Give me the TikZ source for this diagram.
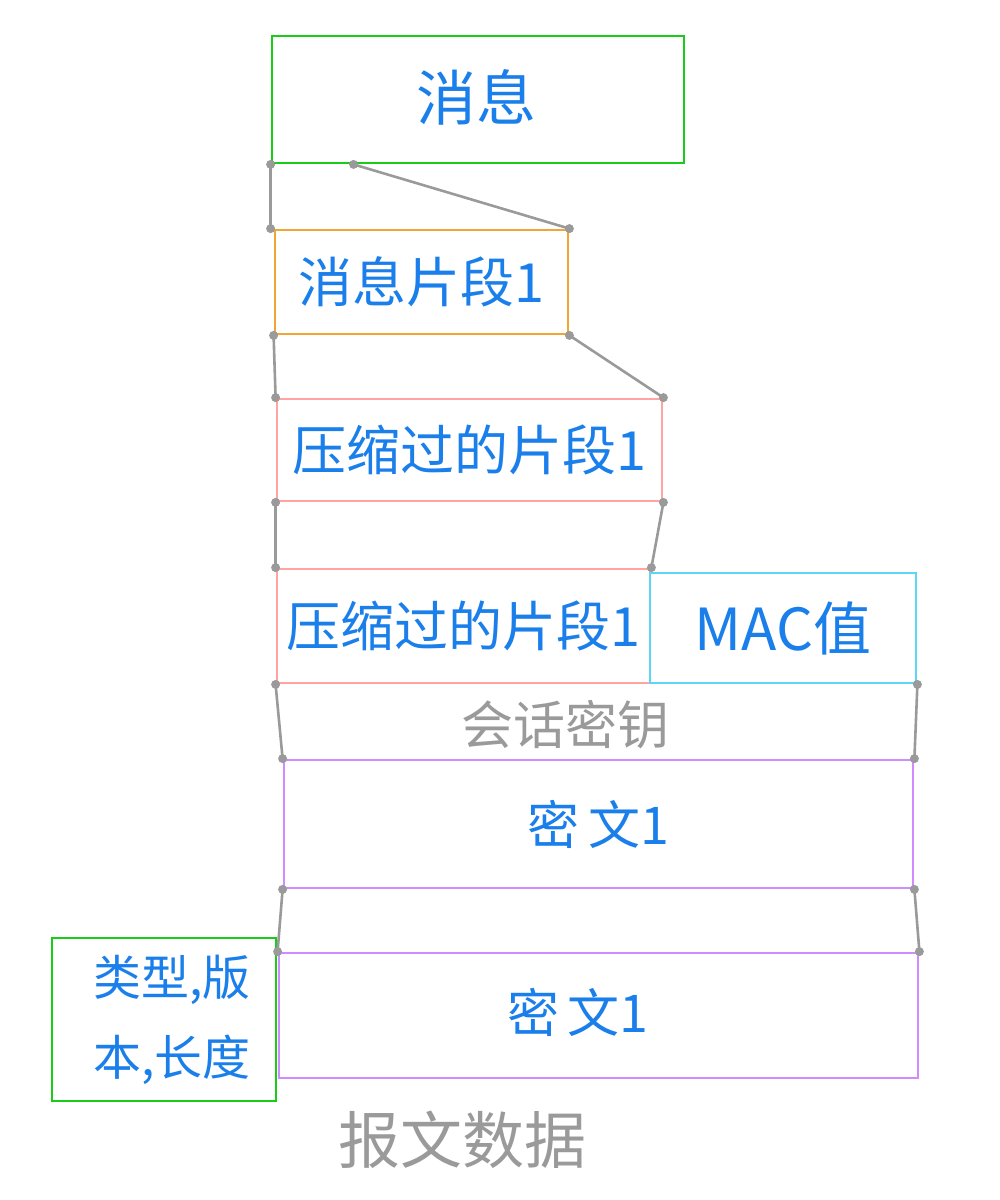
\documentclass[tikz,border=0pt]{standalone}
\usepackage{fontspec}
\usetikzlibrary{calc}
\setmainfont{Noto Sans CJK SC}
\definecolor{txtblue}{HTML}{1A7FEA}
\definecolor{lgray}{HTML}{9A9A9A}
\definecolor{bgreen}{HTML}{1ACC1A}
\definecolor{borange}{HTML}{F2A533}
\definecolor{bpink}{HTML}{FFA3A3}
\definecolor{bcyan}{HTML}{5CD6F5}
\definecolor{bpurple}{HTML}{D08CFF}
\begin{document}
\begin{tikzpicture}[x=1pt,y=-1pt,
  box/.style={draw, line width=2.8pt, rectangle, inner sep=0pt, text=txtblue,
    font=\fontsize{54}{60}\selectfont},
  link/.style={draw=lgray, line width=2.6pt},
  dot/.style={fill=lgray, draw=none},
  graytext/.style={text=lgray, font=\fontsize{52}{60}\selectfont}]
\useasboundingbox (0,0) rectangle (1000,1200);

\node[box, draw=bgreen, minimum width=412pt, minimum height=127pt] (msg) at (478,99.5) {};
\node[text=txtblue, font=\fontsize{60}{66}\selectfont] (msgt) at (476,97) {消息};
\node[box, draw=borange, minimum width=293pt, minimum height=104pt] (frag) at (421.5,282) {消息片段1};
\node[box, draw=bpink, minimum width=385pt, minimum height=102pt] (comp) at (469.5,450) {压缩过的片段1};
\node[box, draw=bpink, minimum width=373pt, minimum height=114pt] (comp2) at (463.5,626) {压缩过的片段1};
\node[box, draw=bcyan, minimum width=266pt, minimum height=110pt, font=\fontsize{58}{64}\selectfont] (mac) at (783,628) {MAC值};
\node[box, draw=bpurple, minimum width=629pt, minimum height=128pt, font=\fontsize{52}{60}\selectfont] (ct1) at (598.5,824) {密\,文1};
\node[box, draw=bpurple, minimum width=639pt, minimum height=125pt] (ct2) at (598.5,1015.5) {};
\node[text=txtblue, font=\fontsize{52}{60}\selectfont] (ct2t) at (578,1012) {密\,文1};
\node[box, draw=bgreen, minimum width=224pt, minimum height=163pt, align=center,
  font=\fontsize{48}{80}\selectfont] (hdr) at (164,1019.5) {\hspace*{16pt}类型,版\\\hspace*{16pt}本,长度};

\node[graytext] (key) at (565,725) {会话密钥};
\node[graytext, font=\fontsize{62}{70}\selectfont] (rec) at (462,1140) {报文数据};

\coordinate (m1) at ($(msg.south west)!0.2!(msg.south east)$);
\coordinate (m0) at (msg.south west |- frag.north west);

\foreach \a/\b in {msg.south west/m0, m1/frag.north east,
  frag.south west/comp.north west, frag.south east/comp.north east,
  comp.south west/comp2.north west, comp.south east/comp2.north east,
  comp2.south west/ct1.north west, mac.south east/ct1.north east,
  ct1.south west/ct2.north west, ct1.south east/ct2.north east}{
  \draw[link] (\a) -- (\b);
  \fill[dot] (\a) circle (4.5pt);
  \fill[dot] (\b) circle (4.5pt);
}
\end{tikzpicture}
\end{document}
